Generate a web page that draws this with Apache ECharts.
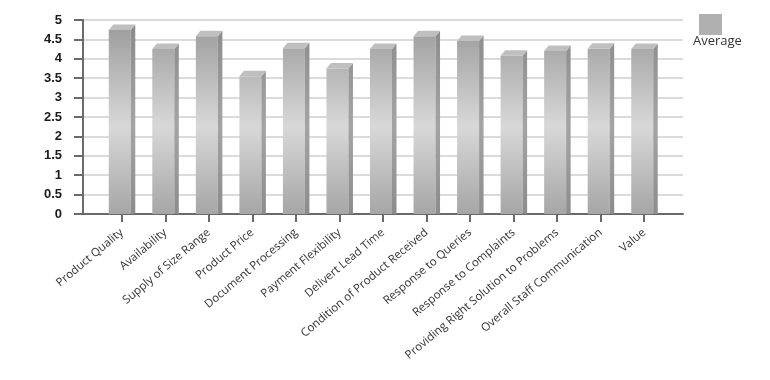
<!DOCTYPE html>
<html>
<head>
<meta charset="utf-8">
<script src="https://cdn.jsdelivr.net/npm/echarts@6/dist/echarts.min.js"></script>
<style>
  html, body { margin: 0; padding: 0; background: #fff; }
  #chart { width: 770px; height: 380px; }
</style>
</head>
<body>
<div id="chart"></div>
<script>
const categories = [
  'Product Quality', 'Availability', 'Supply of Size Range', 'Product Price',
  'Document Processing', 'Payment Flexibility', 'Delivert Lead Time',
  'Condition of Product Received', 'Response to Queries', 'Response to Complaints',
  'Providing Right Solution to Problems', 'Overall Staff Communication', 'Value'
];
const averageValues = [4.74, 4.25, 4.58, 3.55, 4.27, 3.75, 4.25, 4.58, 4.46, 4.08, 4.20, 4.26, 4.25];
const seriesName = 'Average';
const yMin = 0, yMax = 5, yStep = 0.5;

const chart = echarts.init(document.getElementById('chart'), null, { renderer: 'canvas' });

const PLOT_TOP = 20, PLOT_BOTTOM = 214;

function renderBar(params, api) {
  const idx = api.value(0);
  const v = api.value(1);
  const top = api.coord([idx, v]);
  const base = api.coord([idx, 0]);
  const c = top[0];
  const fl = c - 13, fw = 22, dx = 4.5, dy = 5.5;
  const fr = fl + fw;
  const ty = top[1], by = base[1];
  const frontGrad = new echarts.graphic.LinearGradient(0, PLOT_TOP, 0, PLOT_BOTTOM, [
    { offset: 0, color: '#999999' },
    { offset: 0.55, color: '#d8d8d8' },
    { offset: 1, color: '#a6a6a6' }
  ], true);
  const sideGrad = new echarts.graphic.LinearGradient(0, PLOT_TOP, 0, PLOT_BOTTOM, [
    { offset: 0, color: '#8a8a8a' },
    { offset: 0.55, color: '#a4a4a4' },
    { offset: 1, color: '#8c8c8c' }
  ], true);
  return {
    type: 'group',
    children: [
      { type: 'rect', shape: { x: fl, y: ty, width: fw, height: by - ty }, style: { fill: frontGrad } },
      { type: 'polygon', shape: { points: [[fr, ty], [fr + dx, ty - dy], [fr + dx, by], [fr, by]] }, style: { fill: sideGrad } },
      { type: 'polygon', shape: { points: [[fl, ty], [fl + dx, ty - dy], [fr + dx, ty - dy], [fr, ty]] }, style: { fill: '#bfbfbf' } }
    ]
  };
}

const option = {
  animation: false,
  backgroundColor: '#ffffff',
  legend: {
    data: [seriesName],
    left: 694, top: 9,
    icon: 'rect',
    itemWidth: 23, itemHeight: 21,
    formatter: function () { return ''; },
    selectedMode: false
  },
  graphic: [{
    type: 'text', left: 693, top: 35,
    style: { text: seriesName, fill: '#333', font: '13px "Open Sans"' }
  }],
  grid: [
    { left: 83, right: 87, top: PLOT_TOP, bottom: 380 - PLOT_BOTTOM, containLabel: false },
    { left: 100, right: 104, top: PLOT_TOP, bottom: 380 - PLOT_BOTTOM, containLabel: false }
  ],
  xAxis: [
    {
      gridIndex: 0, type: 'value', min: 0, max: 1,
      axisLine: { show: true, lineStyle: { color: '#6a6a6a', width: 2 } },
      axisTick: { show: false }, axisLabel: { show: false }, splitLine: { show: false }
    },
    {
      gridIndex: 1, type: 'category', data: categories, boundaryGap: true,
      axisLine: { show: false },
      axisTick: { show: true, alignWithLabel: true, length: 8, lineStyle: { color: '#6a6a6a', width: 2 } },
      axisLabel: {
        interval: 0, rotate: 40, margin: 17,
        color: '#333', fontSize: 11.5, fontFamily: '"Open Sans", sans-serif'
      },
      splitLine: { show: false }
    }
  ],
  yAxis: [
    {
      gridIndex: 0, type: 'value', min: yMin, max: yMax, interval: yStep,
      axisLine: { show: true, lineStyle: { color: '#6a6a6a', width: 2 } },
      axisTick: { show: true, length: 9, lineStyle: { color: '#6a6a6a', width: 2 } },
      axisLabel: {
        margin: 21, color: '#1a1a1a', fontSize: 13, fontWeight: 'bold',
        fontFamily: '"Liberation Sans", Arial, sans-serif',
        formatter: function (v) { return String(v); }
      },
      splitLine: { show: true, lineStyle: { color: '#cfcfcf', width: 1.5 } }
    },
    {
      gridIndex: 1, type: 'value', min: yMin, max: yMax, interval: yStep,
      show: false, splitLine: { show: false }
    }
  ],
  series: [{
    name: seriesName,
    type: 'custom',
    xAxisIndex: 1, yAxisIndex: 1,
    itemStyle: { color: '#b0b0b0' },
    encode: { x: 0, y: 1 },
    data: averageValues.map(function (v, i) { return [i, v]; }),
    renderItem: renderBar,
    z: 3
  }]
};
chart.setOption(option);
</script>
</body>
</html>
